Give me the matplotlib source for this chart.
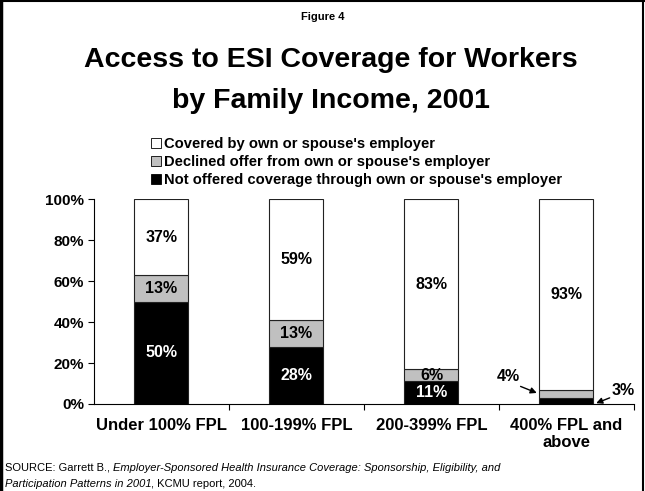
import matplotlib.pyplot as plt
from matplotlib.patches import Patch
from matplotlib.lines import Line2D

plt.rcParams['font.family'] = ['Liberation Sans', 'DejaVu Sans']

# Share of workers by family income group (%)
categories = ["Under 100% FPL", "100-199% FPL", "200-399% FPL", "400% FPL and\nabove"]
not_offered = [50, 28, 11, 3]
declined = [13, 13, 6, 4]
covered = [37, 59, 83, 93]

series_names = ["Covered by own or spouse's employer",
                "Declined offer from own or spouse's employer",
                "Not offered coverage through own or spouse's employer"]
yticks = [0, 20, 40, 60, 80, 100]

fig = plt.figure(figsize=(6.45, 4.91), dpi=100)
ax = fig.add_axes([0.1457, 0.1772, 0.8372, 0.4165])

x = list(range(len(categories)))
w = 0.4
ec = '#222222'
ax.bar(x, not_offered, w, color='black', edgecolor=ec, linewidth=0.8)
ax.bar(x, declined, w, bottom=not_offered, color='#c0c0c0', edgecolor=ec, linewidth=0.8)
bottom2 = [a + b for a, b in zip(not_offered, declined)]
ax.bar(x, covered, w, bottom=bottom2, color='white', edgecolor=ec, linewidth=0.8)

# value labels inside the bars (the thin last bar gets arrows instead)
lab = dict(ha='center', va='center', fontsize=11.5, fontweight='bold')
for i in range(3):
    ax.text(i, not_offered[i] / 2, f"{not_offered[i]}%", color='white', **lab)
    ax.text(i, not_offered[i] + declined[i] / 2, f"{declined[i]}%", color='black', **lab)
for i in range(4):
    ax.text(i, bottom2[i] + covered[i] / 2, f"{covered[i]}%", color='black', **lab)

arrow = dict(arrowstyle='-|>', color='black', lw=1, mutation_scale=9, shrinkA=0, shrinkB=0)
ax.text(2.57, 13.5, f"{declined[3]}%", **lab)
ax.annotate("", xy=(2.78, not_offered[3] + declined[3] / 2 + 0.4), xytext=(2.66, 8.6),
            arrowprops=arrow)
ax.text(3.42, 6.5, f"{not_offered[3]}%", **lab)
ax.annotate("", xy=(3.22, 0.4), xytext=(3.32, 3.0), arrowprops=arrow)

ax.set_xlim(-0.5, 3.5)
ax.set_ylim(0, 100)
ax.set_yticks(yticks)
ax.set_yticklabels([f"{t}%" for t in yticks], fontsize=11, fontweight='bold')
ax.set_xticks(x)
ax.set_xticklabels(categories, fontsize=12, fontweight='bold')
ax.set_xticks([0.5, 1.5, 2.5, 3.5], minor=True)
ax.tick_params(axis='x', which='major', length=0, pad=10)
ax.tick_params(axis='x', which='minor', length=4, direction='out', width=0.8)
ax.tick_params(axis='y', length=4, direction='out', width=0.8, pad=3)
for s in ['top', 'right']:
    ax.spines[s].set_visible(False)
for s in ['left', 'bottom']:
    ax.spines[s].set_linewidth(0.8)

handles = [Patch(facecolor=c, edgecolor='black', linewidth=0.6)
           for c in ['white', '#c0c0c0', 'black']]
fig.legend(handles, series_names, loc='upper left', bbox_to_anchor=(0.234, 0.721),
           frameon=False, prop={'size': 10.6, 'weight': 'bold'},
           handlelength=0.7, handleheight=0.7, handletextpad=0.2,
           labelspacing=0.28, borderaxespad=0, borderpad=0)

fig.text(0.5, 0.965, "Figure 4", ha='center', va='center', fontsize=8, fontweight='bold')
fig.text(0.5124, 0.8642, "Access to ESI Coverage for Workers",
         ha='center', va='baseline', fontsize=20.5, fontweight='bold')
fig.text(0.5124, 0.780, "by Family Income, 2001",
         ha='center', va='baseline', fontsize=20.5, fontweight='bold')

# source note, with the report title in italics
src_kw = dict(fontsize=8, va='baseline')
t1 = fig.text(0.007, 0.041, "SOURCE: Garrett B., ", **src_kw)
t1i = fig.text(0, 0.041,
               "Employer-Sponsored Health Insurance Coverage: Sponsorship, Eligibility, and",
               style='italic', **src_kw)
t2 = fig.text(0.007, 0.008, "Participation Patterns in 2001", style='italic', **src_kw)
t3 = fig.text(0, 0.008, ", KCMU report, 2004.", **src_kw)

fig.canvas.draw()
r = fig.canvas.get_renderer()
inv = fig.transFigure.inverted()
t1i.set_position((t1.get_window_extent(r).transformed(inv).x1, 0.041))
t3.set_position((t2.get_window_extent(r).transformed(inv).x1, 0.008))

# frame around the figure
fig.add_artist(Line2D([0.002, 0.002], [0, 1], transform=fig.transFigure, color='black', lw=2.5))
fig.add_artist(Line2D([0, 1], [0.998, 0.998], transform=fig.transFigure, color='black', lw=1.5))
fig.add_artist(Line2D([0.997, 0.997], [0, 1], transform=fig.transFigure, color='black', lw=1.5))

fig.savefig("out.png", dpi=100)
